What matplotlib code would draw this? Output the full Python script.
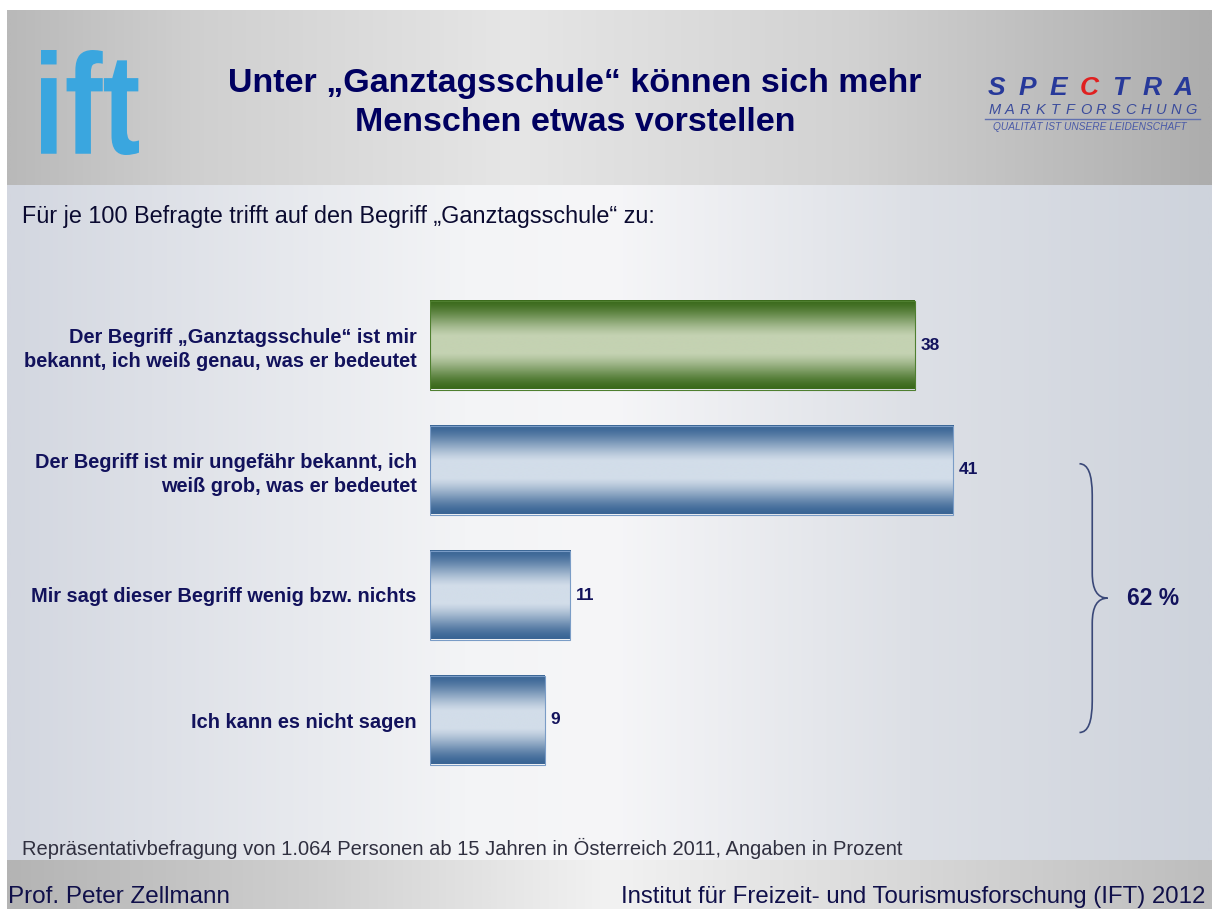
import matplotlib
matplotlib.use("Agg")
import matplotlib.pyplot as plt
import numpy as np
from matplotlib.colors import LinearSegmentedColormap
from matplotlib.path import Path
from matplotlib.patches import PathPatch
from matplotlib.textpath import TextPath
from matplotlib.font_manager import FontProperties
from matplotlib.transforms import Affine2D

# Daten
kategorien = [
    "Der Begriff \u201eGanztagsschule\u201c ist mir\nbekannt, ich weiß genau, was er bedeutet",
    "Der Begriff ist mir ungefähr bekannt, ich\nweiß grob, was er bedeutet",
    "Mir sagt dieser Begriff wenig bzw. nichts",
    "Ich kann es nicht sagen",
]
werte = [38, 41, 11, 9]
summe_label = "62 %"

titel = "Unter \u201eGanztagsschule\u201c können sich mehr\nMenschen etwas vorstellen"
untertitel = "Für je 100 Befragte trifft auf den Begriff \u201eGanztagsschule\u201c zu:"
fussnote = "Repräsentativbefragung von 1.064 Personen ab 15 Jahren in Österreich 2011, Angaben in Prozent"
autor = "Prof. Peter Zellmann"
institut = "Institut für Freizeit- und Tourismusforschung (IFT) 2012"

NAVY = "#12125c"
SANS = ["Liberation Sans", "DejaVu Sans"]

W, H = 1212, 909
fig = plt.figure(figsize=(W / 100, H / 100), dpi=100)
fig.patch.set_facecolor("white")

# Hintergrund (Pixelkoordinaten)
bg = fig.add_axes([0, 0, 1, 1])
bg.set_xlim(0, W)
bg.set_ylim(H, 0)
bg.axis("off")

def hgrad(ax, x0, x1, y0, y1, stops):
    cmap = LinearSegmentedColormap.from_list("g", stops)
    arr = np.linspace(0, 1, 512).reshape(1, -1)
    ax.imshow(arr, cmap=cmap, extent=(x0, x1, y1, y0), aspect="auto",
              interpolation="bilinear", zorder=0)

# Kopfbereich
hgrad(bg, 7, W, 10, 185, [(0, "#b9b9b9"), (0.15, "#cfcfcf"), (0.42, "#e6e6e6"),
                          (0.7, "#d2d2d2"), (1, "#adadad")])
# Inhaltsbereich
hgrad(bg, 7, W, 185, 860, [(0, "#d3d7e0"), (0.38, "#f3f4f6"), (0.5, "#f6f6f8"),
                           (0.75, "#dde0e6"), (1, "#ced3dc")])
# Fußbereich
hgrad(bg, 7, W, 860, H, [(0, "#b4b4b4"), (0.25, "#cfcfcf"), (0.5, "#f2f2f2"),
                         (0.75, "#d8d8d8"), (1, "#bdbdbd")])
bg.set_xlim(0, W)
bg.set_ylim(H, 0)

# ift-Logo
tp = TextPath((0, 0), "ift", size=100,
              prop=FontProperties(family=SANS, weight="bold"))
bb = tp.get_extents()
tr = Affine2D().translate(-bb.x0, -bb.y0).scale(98 / bb.width, -105 / bb.height).translate(41, 155)
bg.add_patch(PathPatch(tr.transform_path(tp), facecolor="#3aa6df", edgecolor="none", zorder=2))

# SPECTRA-Logo
for ch, xc in zip("SPECTRA", np.linspace(996, 1183, 7)):
    bg.text(xc, 95, ch, ha="center", va="baseline", fontsize=19, fontweight="bold",
            style="italic", family=SANS, color="#e02020" if ch == "C" else "#27399a")
for ch, xc in zip("MARKTFORSCHUNG", np.linspace(995, 1191, 14)):
    bg.text(xc, 114, ch, ha="center", va="baseline", fontsize=10.5, style="italic",
            family=SANS, color="#3b4c9c")
bg.plot([985, 1200], [119, 119], color="#6070b0", lw=1)
bg.text(1090, 130, "QUALITÄT IST UNSERE LEIDENSCHAFT", ha="center", va="baseline",
        fontsize=7.3, style="italic", family=SANS, color="#4a5aa8")

# Titel
bg.text(575, 103, titel, ha="center", va="center", fontsize=24.5, fontweight="bold",
        family=SANS, color="#000060", linespacing=1.3)
bg.text(22, 216, untertitel, ha="left", va="center", fontsize=16.8, family=SANS, color="#0a0a30")
bg.text(22, 848, fussnote, ha="left", va="center", fontsize=14.5, family=SANS, color="#303040")
bg.text(8, 897, autor, ha="left", va="center", fontsize=17.5, family=SANS, color="#10104a")
bg.text(1205, 897, institut, ha="right", va="center", fontsize=17.3, family=SANS, color="#10104a")

# Diagramm: x=0 bei Pixel 430, 12.76 px pro Einheit
ax = fig.add_axes([430 / W, 119 / H, (W - 430) / W, 510 / H])
ax.patch.set_alpha(0)
xmax = (W - 430) / 12.76
y = np.arange(len(werte))
bars = ax.barh(y, werte, height=0.712, facecolor="none", zorder=3)

stil = [("#3b6a1c", "#c4d2b2", "#4f7f30"), ("#3a6595", "#d2dde9", "#7a9cc6"),
        ("#3a6595", "#d2dde9", "#7a9cc6"), ("#3a6595", "#d2dde9", "#7a9cc6")]
t = np.linspace(0, 1, 200)
prof = np.clip(np.sin(np.pi * t) * 1.05, 0, 1) ** 1.6
for rect, (dunkel, hell, kante) in zip(bars, stil):
    cmap = LinearSegmentedColormap.from_list("b", [dunkel, hell])
    x0, y0 = rect.get_x(), rect.get_y()
    w, h = rect.get_width(), rect.get_height()
    ax.imshow(prof.reshape(-1, 1), cmap=cmap, vmin=0, vmax=1,
              extent=(x0, x0 + w, y0 + h, y0), aspect="auto",
              interpolation="bilinear", zorder=2)
    rect.set_edgecolor(kante)
    rect.set_linewidth(0.8)
    ax.text(x0 + w + 0.45, y0 + h / 2, str(int(w)), ha="left", va="center",
            fontsize=12.5, fontweight="bold", family=SANS, color=NAVY)

ax.set_xlim(0, xmax)
ax.set_ylim(3.56, -0.52)
ax.set_yticks(y)
ax.set_yticklabels(kategorien, fontsize=14.4, fontweight="bold", family=SANS,
                   color=NAVY, linespacing=1.35)
ax.tick_params(axis="y", length=0, pad=9.5)
ax.set_xticks([])
for s in ax.spines.values():
    s.set_visible(False)

# Geschweifte Klammer über die letzten drei Balken
bx0, bx1, tip = 50.9, 51.9, 53.1
top, bot = 0.95, 3.1
mid = (top + bot) / 2
verts = [(bx0, top), (bx1, top), (bx1, top + 0.25), (bx1, mid - 0.2),
         (bx1, mid), (tip, mid), (bx1, mid), (bx1, mid + 0.2),
         (bx1, bot - 0.25), (bx1, bot), (bx0, bot)]
codes = [Path.MOVETO, Path.CURVE3, Path.CURVE3, Path.LINETO,
         Path.CURVE3, Path.CURVE3, Path.CURVE3, Path.CURVE3,
         Path.LINETO, Path.CURVE3, Path.CURVE3]
ax.add_patch(PathPatch(Path(verts, codes), facecolor="none", edgecolor="#3a4878",
                       lw=1.2, clip_on=False, zorder=3))
ax.text(tip + 1.5, mid, summe_label, ha="left", va="center", fontsize=16.5,
        fontweight="bold", family=SANS, color=NAVY)

fig.savefig("out.png", dpi=100)
